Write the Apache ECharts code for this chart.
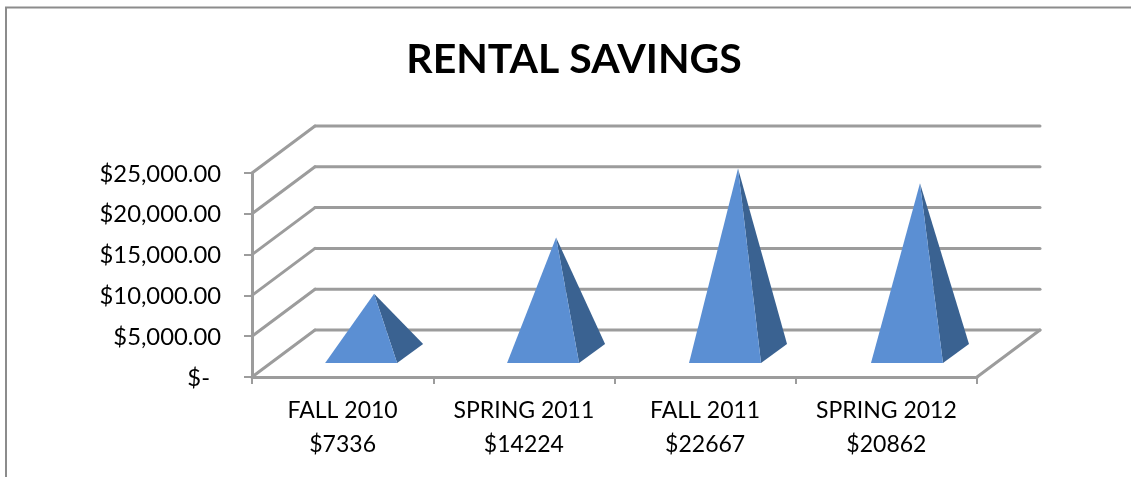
<!DOCTYPE html>
<html>
<head>
<meta charset="utf-8">
<style>html,body{margin:0;padding:0;background:#fff}#c{width:1131px;height:477px}</style>
<script src="https://cdn.jsdelivr.net/npm/echarts@6/dist/echarts.min.js"></script>
</head>
<body>
<div id="c"></div>
<script>
var categories = ['FALL 2010', 'SPRING 2011', 'FALL 2011', 'SPRING 2012'];
var amountLabels = ['$7336', '$14224', '$22667', '$20862'];
var savings = [7336, 14224, 22667, 20862];
var tickValues = [0, 5000, 10000, 15000, 20000, 25000];
var tickLabels = ['$-', '$5,000.00', '$10,000.00', '$15,000.00', '$20,000.00', '$25,000.00'];

var GREY = '#9c9c9c';
var LINE_W = 3;
var DEPTH_X = 63, DEPTH_Y = 47;      // oblique depth of the 3D box
var HALF_W = 36, HALF_DX = 13, HALF_DY = 9.5; // pyramid base half sizes
var DRIFT = 0.7;                     // slight widening of the pyramid row with depth

var chart = echarts.init(document.getElementById('c'), null, {renderer: 'canvas'});

function line(x1, y1, x2, y2) {
  return {type: 'line', shape: {x1: x1, y1: y1, x2: x2, y2: y2},
    style: {stroke: GREY, lineWidth: LINE_W, fill: null, lineCap: 'round'}};
}

chart.setOption({
  animation: false,
  backgroundColor: '#fff',
  title: {
    text: 'RENTAL SAVINGS', left: 569, top: 34, textAlign: 'center',
    textStyle: {fontFamily: 'Lato', fontWeight: 'bold', fontSize: 41, color: '#000'}
  },
  graphic: [{
    type: 'polyline', silent: true,
    shape: {points: [[6, 477], [6, 7.5], [1131, 7.5]]},
    style: {stroke: '#8c8c8c', lineWidth: 2, fill: null}
  }],
  grid: {left: 252, right: 154, top: 173, bottom: 100},
  xAxis: {
    type: 'category', data: categories, boundaryGap: true,
    axisLine: {lineStyle: {color: GREY, width: LINE_W}},
    axisTick: {show: true, length: 7, lineStyle: {color: GREY, width: 2}},
    axisLabel: {
      interval: 0, margin: 17, lineHeight: 34, fontFamily: 'Lato', fontSize: 23, color: '#000',
      formatter: function (v, i) { return v + '\n' + amountLabels[i]; }
    }
  },
  yAxis: {
    type: 'value', min: 0, max: 25000, interval: 5000,
    splitLine: {show: false},
    axisLine: {show: true, lineStyle: {color: GREY, width: LINE_W}},
    axisTick: {show: true, length: 8, lineStyle: {color: GREY, width: 2}},
    axisLabel: {
      margin: 31, fontFamily: 'Lato', fontSize: 23.8, color: '#000', padding: [2, 0, 0, 0],
      formatter: function (v) {
        var s = tickLabels[tickValues.indexOf(v)];
        return v === 0 ? '{z|' + s + '}' : s;
      },
      rich: {z: {fontFamily: 'Lato', fontSize: 23.8, color: '#000', padding: [0, 11, 0, 0]}}
    }
  },
  series: [{
    type: 'custom', name: 'walls', silent: true, clip: false, z: 1,
    data: tickValues.map(function (v) { return [0, v]; }),
    renderItem: function (params, api) {
      var g = params.coordSys;
      var y = api.coord([0, api.value(1)])[1];
      var left = g.x, right = g.x + g.width;
      var children = [
        line(left, y, left + DEPTH_X, y - DEPTH_Y),
        line(left + DEPTH_X, y - DEPTH_Y, right + DEPTH_X, y - DEPTH_Y)
      ];
      if (api.value(1) === 0) children.push(line(right, y, right + DEPTH_X, y - DEPTH_Y));
      return {type: 'group', children: children};
    }
  }, {
    type: 'custom', name: 'RENTAL SAVINGS', clip: false, z: 2,
    data: savings.map(function (v, i) { return [i, v]; }),
    renderItem: function (params, api) {
      var base = api.coord([api.value(0), 0]);
      var top = api.coord([api.value(0), api.value(1)]);
      var cx = base[0] + DEPTH_X / 2 + api.value(0) * DRIFT, cy = base[1] - DEPTH_Y / 2;
      var apex = [cx, top[1] - DEPTH_Y / 2];
      var fl = [cx - HALF_W - HALF_DX, cy + HALF_DY];
      var fr = [cx + HALF_W - HALF_DX, cy + HALF_DY];
      var br = [cx + HALF_W + HALF_DX, cy - HALF_DY];
      return {type: 'group', children: [{
        type: 'polygon', shape: {points: [fr, br, apex]},
        style: {fill: '#3a6291'}
      }, {
        type: 'polygon', shape: {points: [fl, fr, apex]},
        style: {fill: '#5b8fd3'}
      }]};
    }
  }]
});
</script>
</body>
</html>
